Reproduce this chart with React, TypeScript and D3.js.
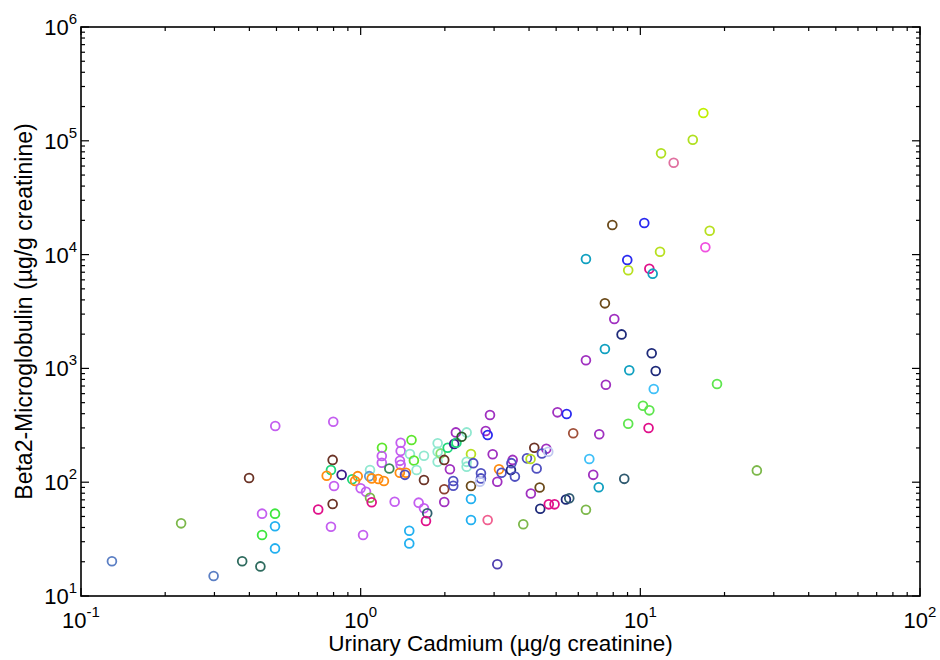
import React from "react";
import * as d3 from "d3";

// Urinary cadmium (µg/g creatinine)
const cadmium: number[] = [
  0.129, 0.228, 0.298, 0.377, 0.438, 0.399, 0.444, 0.494, 0.444, 0.494,
  0.494, 0.495, 0.705, 0.798, 0.794, 0.783, 0.756, 0.855, 0.803, 0.794,
  0.783, 0.933, 0.955, 0.976, 1.08, 1.073, 1.095, 1.156, 1.211, 1.0,
  1.045, 1.08, 1.095, 1.02, 1.192, 1.19, 1.19, 1.266, 1.39, 1.39,
  1.382, 1.39, 1.38, 1.452, 1.44, 1.52, 1.5, 1.55, 1.585, 1.684,
  1.684, 1.323, 1.612, 1.684, 1.73, 1.712, 1.492, 1.492, 1.885, 1.885,
  1.885, 1.932, 1.99, 2.047, 2.085, 1.99, 1.99, 2.19, 2.16, 2.2,
  2.393, 2.296, 2.143, 2.143, 2.48, 2.393, 2.393, 2.527, 2.48, 2.48,
  2.48, 2.8, 2.845, 2.9, 2.965, 2.692, 2.692, 2.67, 3.08, 2.845,
  3.08, 3.124, 3.19, 3.446, 3.495, 3.46, 3.56, 3.814, 3.932, 4.05,
  4.176, 4.259, 4.365, 4.06, 4.387, 4.61, 4.447, 4.686, 4.706, 4.935,
  5.054, 5.452, 5.42, 5.57, 5.754, 7.53, 11.17, 18.8, 10.22, 10.77,
  9.05, 10.7, 7.13, 6.57, 6.785, 8.76, 7.1, 6.39, 26.1, 7.94,
  10.33, 17.7, 17.08, 6.39, 8.98, 11.76, 9.05, 10.77, 11.07, 7.47,
  8.07, 8.57, 7.47, 6.39, 10.98, 11.35, 9.13, 16.8, 15.4, 11.86,
  13.16,
];

// Beta2-microglobulin (µg/g creatinine)
const b2m: number[] = [
  20.2, 43.5, 15.0, 20.2, 18.2, 109, 52.9, 52.9, 34.4, 41.0,
  26.2, 312, 57.5, 340, 157, 128, 114, 116, 92.6, 64.3,
  40.6, 106, 102.4, 113, 128, 113, 108, 106.7, 102.4, 88.4,
  82.5, 73.1, 66.6, 34.4, 201, 170, 148, 132, 222, 188,
  154, 142, 121, 121, 116, 235, 177, 155, 128, 171,
  104.5, 67.4, 66.1, 59.0, 53.3, 45.6, 37.5, 29.0, 220, 185,
  151, 179, 157, 201, 130, 86.6, 67.0, 274, 217, 222,
  274, 251, 102.4, 93.1, 177, 151, 137, 147, 92.6, 71.2,
  46.5, 282, 260, 390, 176, 120, 108, 101, 101, 46.5,
  19.0, 130, 121, 128, 157, 147, 112, 42.7, 162, 160,
  201, 132, 89.8, 79.5, 58.4, 197, 179, 185, 63.9, 63.9,
  411, 397, 70.5, 72.2, 269, 719, 659, 729, 470, 428,
  326, 299, 264, 160, 116, 107, 90.2, 57.3, 127, 18200,
  18960, 16200, 11600, 9150, 8970, 10600, 7280, 7520, 6800, 3730,
  2720, 1990, 1480, 1180, 1360, 949, 962, 175500, 102000, 77600,
  64200,
];

const pointColors: string[] = [
  "#5b7fc4", "#7cb84a", "#5b7fc4", "#2e6b5e", "#2e6b5e", "#6b3326", "#c45ef0", "#3ee63e", "#3ee63e", "#22b0f0",
  "#22b0f0", "#c45ef0", "#e0108a", "#c45ef0", "#6b3326", "#1ed67a", "#ff8c10", "#3a1a8a", "#c45ef0", "#6b3326",
  "#c45ef0", "#1ed67a", "#ff8c10", "#ff8c10", "#90e8d0", "#5b9bd5", "#ff8c10", "#ff8c10", "#ff8c10", "#c45ef0",
  "#c45ef0", "#7cb84a", "#e0108a", "#c45ef0", "#5ee62e", "#c45ef0", "#c45ef0", "#3a8a5a", "#c45ef0", "#c45ef0",
  "#c45ef0", "#c45ef0", "#ff8c10", "#ff8c10", "#5050c0", "#5ee62e", "#90e8d0", "#5ee62e", "#90e8d0", "#90e8d0",
  "#6b3326", "#c45ef0", "#c45ef0", "#c45ef0", "#2f5f6e", "#e0108a", "#22b0f0", "#22b0f0", "#90e8d0", "#90e8d0",
  "#90e8d0", "#88e070", "#6b3326", "#1ed67a", "#a030c0", "#8a4030", "#a030c0", "#a030c0", "#3a1a8a", "#1ed67a",
  "#90e8d0", "#2a5a2a", "#5050c0", "#5050c0", "#b8e020", "#90e8d0", "#90e8d0", "#5050c0", "#6b4a1a", "#22b0f0",
  "#22b0f0", "#a030c0", "#2a2af0", "#a030c0", "#a030c0", "#5050c0", "#5050c0", "#c0c8f0", "#a030c0", "#f06090",
  "#5040b0", "#ff8c10", "#5050c0", "#1e2a7a", "#a030c0", "#5050c0", "#5050c0", "#7cb84a", "#5050c0", "#b8e020",
  "#6b3326", "#5050c0", "#6b4a1a", "#a030c0", "#1e2a7a", "#a030c0", "#5050c0", "#c0c8f0", "#e0108a", "#e0108a",
  "#a030c0", "#2a2af0", "#1e2a7a", "#2f5a70", "#a0503a", "#a030c0", "#40c0f8", "#5ee64e", "#5ee64e", "#5ee64e",
  "#5ee64e", "#e0108a", "#a030c0", "#40c0f8", "#a030c0", "#2f5a70", "#10a0c0", "#7cb84a", "#7cb84a", "#6b4a1a",
  "#2a2af0", "#b8e020", "#f050e0", "#10a0c0", "#2a2af0", "#b8e020", "#b8e020", "#e0108a", "#10a0c0", "#6b4a1a",
  "#a030c0", "#1e2a7a", "#10a0c0", "#a030c0", "#1e2a7a", "#1e2a7a", "#10a0c0", "#c0f000", "#b0e020", "#b0e020",
  "#e070a0",
];

const xDomain: [number, number] = [0.1, 100];
const yDomain: [number, number] = [10, 1e6];
const xTickExps: string[] = ["-1", "0", "1", "2"];
const yTickExps: string[] = ["1", "2", "3", "4", "5", "6"];
const xTitle = "Urinary Cadmium (µg/g creatinine)";
const yTitle = "Beta2-Microglobulin (µg/g creatinine)";

const W = 940;
const H = 660;
const L = 81, R = 920, T = 27, B = 596;
const FONT = "'Liberation Sans', Arial, Helvetica, sans-serif";

function logTicks(lo: number, hi: number) {
  const out: { v: number; major: boolean }[] = [];
  for (let e = Math.round(Math.log10(lo)); e <= Math.round(Math.log10(hi)); e++) {
    for (let m = 1; m <= 9; m++) {
      const v = m * Math.pow(10, e);
      if (v > hi * 1.0001) break;
      out.push({ v, major: m === 1 });
    }
  }
  return out;
}

export default function App() {
  const x = d3.scaleLog().domain(xDomain).range([L, R]);
  const y = d3.scaleLog().domain(yDomain).range([B, T]);
  const xt = logTicks(xDomain[0], xDomain[1]);
  const yt = logTicks(yDomain[0], yDomain[1]);
  const MAJ = 8, MIN = 4;

  return (
    <svg width={W} height={H} style={{ position: "absolute", left: 0, top: 0, background: "#fff" }} fontFamily={FONT}>
      <rect x={0} y={0} width={W} height={H} fill="#fff" />
      <g>
        {cadmium.map((c, i) => (
          <circle key={i} cx={x(c)} cy={y(b2m[i])} r={4.4} fill="none" stroke={pointColors[i]} strokeWidth={1.8} />
        ))}
      </g>
      <g stroke="#000" strokeWidth={1.2}>
        {xt.map((t, i) => {
          const px = x(t.v);
          const len = t.major ? MAJ : MIN;
          return (
            <g key={"x" + i}>
              <line x1={px} x2={px} y1={B} y2={B - len} />
              <line x1={px} x2={px} y1={T} y2={T + len} />
            </g>
          );
        })}
        {yt.map((t, i) => {
          const py = y(t.v);
          const len = t.major ? MAJ : MIN;
          return (
            <g key={"y" + i}>
              <line x1={L} x2={L + len} y1={py} y2={py} />
              <line x1={R} x2={R - len} y1={py} y2={py} />
            </g>
          );
        })}
      </g>
      <rect x={L} y={T} width={R - L} height={B - T} fill="none" stroke="#000" strokeWidth={1.6} />
      {xTickExps.map((e, i) => (
        <text key={"xl" + i} x={x(Math.pow(10, +e))} y={628} textAnchor="middle" fontSize={22} fill="#000">
          <tspan>10</tspan>
          <tspan dy={-11} fontSize={15}>{e}</tspan>
        </text>
      ))}
      {yTickExps.map((e, i) => (
        <text key={"yl" + i} x={77} y={y(Math.pow(10, +e)) + 8} textAnchor="end" fontSize={22} fill="#000">
          <tspan>10</tspan>
          <tspan dy={-11} fontSize={15}>{e}</tspan>
        </text>
      ))}
      <text x={(L + R) / 2} y={651} textAnchor="middle" fontSize={22.5} fill="#000">{xTitle}</text>
      <text transform={`translate(32, ${(T + B) / 2}) rotate(-90)`} textAnchor="middle" fontSize={23} fill="#000">{yTitle}</text>
    </svg>
  );
}
